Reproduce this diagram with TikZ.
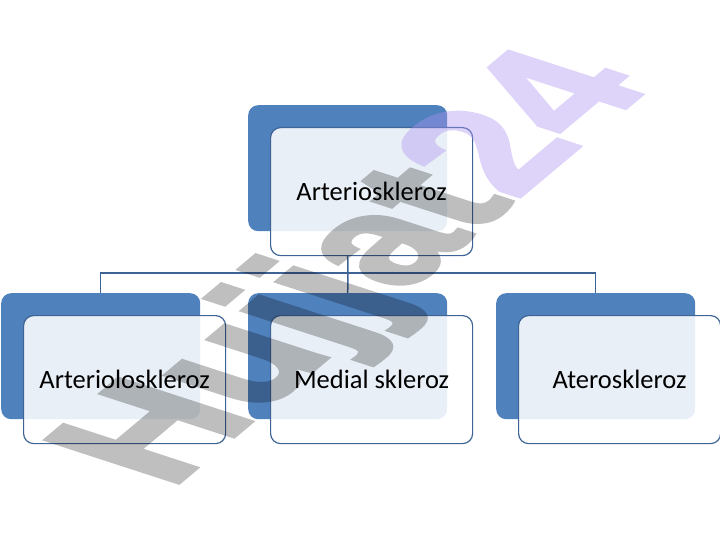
\documentclass[tikz,border=0pt]{standalone}
\usepackage{fontspec}
\setmainfont{Carlito}
\newfontfamily\wmfont[FakeBold=2.5]{Liberation Sans Bold}
\definecolor{bk}{RGB}{79,129,189}
\definecolor{bd}{RGB}{62,100,150}
\definecolor{lav}{RGB}{172,147,242}
\tikzset{
  backbox/.style={fill=bk, draw=none, rounded corners=10pt, inner sep=0pt,
    minimum width=199pt, minimum height=126pt, anchor=north west},
  frontbox/.style={fill=white, fill opacity=0.88, text opacity=1, draw=bd,
    line width=1.2pt, rounded corners=10pt, inner sep=0pt,
    minimum width=202pt, minimum height=128pt, anchor=north west,
    font=\fontsize{26.5}{30}\selectfont},
  conn/.style={draw=bd, line width=1.5pt},
  wmtext/.style={inner sep=0pt, transform shape,
    font=\wmfont\fontsize{100}{100}\selectfont}
}
\begin{document}
\begin{tikzpicture}[x=1pt,y=-1pt]
\useasboundingbox (0,0) rectangle (720,540);
% back boxes
\node[backbox] (tb) at (248,105) {};
\node[backbox] (b1b) at (1,293) {};
\node[backbox] (b2b) at (248,293) {};
\node[backbox] (b3b) at (496,293) {};
% front boxes
\node[frontbox] (tf) at (270,127) {Arterioskleroz};
\node[frontbox] (b1f) at (23,315) {Arterioloskleroz};
\node[frontbox] (b2f) at (270,315) {Medial skleroz};
\node[frontbox] (b3f) at (518,315) {Ateroskleroz};
% connectors
\coordinate (hub) at (348,273);
\draw[conn] (tb.south |- tf.south) -- (hub);
\draw[conn] (b1b.north) |- (hub) -| (b3b.north);
\draw[conn] (hub) -- (b2b.north);
% watermark
\begin{scope}[cm={1.241,1.041,-1.926,0.626,(170,490)}]
\begin{scope}[transparency group, opacity=0.25]
\node[wmtext, text=black, anchor=base west] (wm1) at (0,0) {Hujjat};
\end{scope}
\begin{scope}[transparency group, opacity=0.4]
\node[wmtext, text=lav, anchor=base west] (wm2) at (wm1.base east) {24};
\end{scope}
\end{scope}
\end{tikzpicture}
\end{document}
